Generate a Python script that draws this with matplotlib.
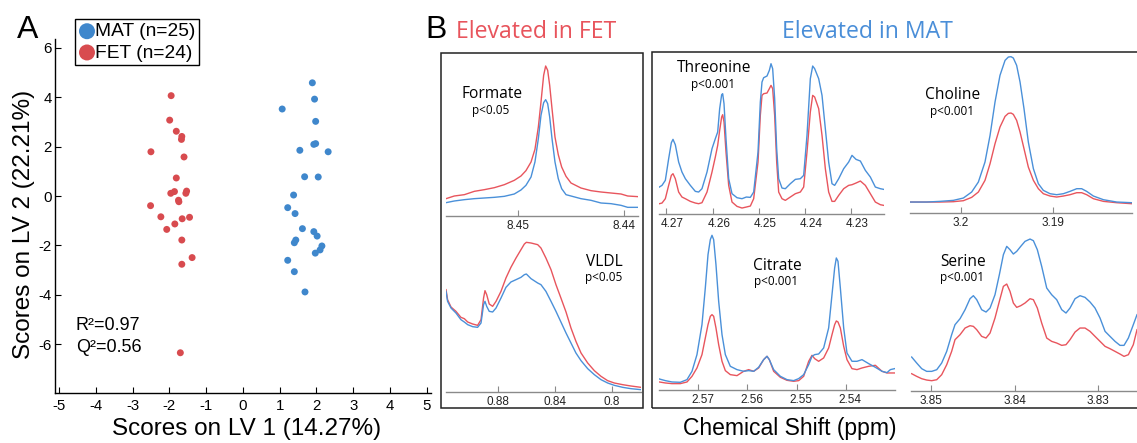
import matplotlib
matplotlib.use('Agg')
import matplotlib.pyplot as plt
from matplotlib.patches import Rectangle
from matplotlib.transforms import ScaledTranslation

plt.rcParams['font.family'] = ['Liberation Sans', 'DejaVu Sans']
plt.rcParams['axes.unicode_minus'] = False

# ---------------- data: panel A (PLS-DA scores) ----------------
mat_lv1 = [1.89, 1.95, 1.07, 1.98, 1.93, 1.98, 1.55, 2.32, 1.68, 2.05, 1.38, 1.22,
           1.42, 1.62, 1.93, 2.02, 1.44, 1.40, 2.15, 2.10, 1.97, 1.22, 1.40, 1.69]
mat_lv2 = [4.58, 3.92, 3.52, 3.02, 2.09, 2.12, 1.85, 1.79, 0.78, 0.77, 0.04, -0.47,
           -0.71, -1.32, -1.44, -1.62, -1.78, -1.89, -2.02, -2.18, -2.31, -2.60, -3.06, -3.88]
fet_lv1 = [-1.95, -1.99, -1.81, -1.66, -1.67, -2.50, -1.60, -1.81, -1.86, -1.96, -1.53, -1.55,
           -1.75, -1.74, -2.51, -2.23, -1.45, -1.65, -1.85, -2.07, -1.66, -1.38, -1.66, -1.70]
fet_lv2 = [4.06, 3.07, 2.62, 2.41, 2.29, 1.79, 1.58, 0.73, 0.18, 0.11, 0.20, 0.11,
           -0.17, -0.23, -0.39, -0.84, -0.86, -0.92, -1.13, -1.35, -1.78, -2.49, -2.76, -6.34]
legend_labels = ['MAT (n=25)', 'FET (n=24)']
fit_text = ['R\u00b2=0.97', 'Q\u00b2=0.56']
a_xticks = [-5, -4, -3, -2, -1, 0, 1, 2, 3, 4, 5]
a_yticks = [-6, -4, -2, 0, 2, 4, 6]

# ---------------- data: panel B (NMR spectra, a.u.) ----------------
formate_ppm = [8.45676, 8.45598, 8.45503, 8.45409, 8.45315, 8.45220, 8.45126, 8.45032, 8.44969,
               8.44922, 8.44874, 8.44837, 8.44805, 8.44780, 8.44755, 8.44736, 8.44717, 8.44698,
               8.44676, 8.44648, 8.44617, 8.44585, 8.44544, 8.44497, 8.44403, 8.44308, 8.44214,
               8.44120, 8.44025, 8.43962, 8.43862]
formate_fet = [52, 60, 64, 74, 79, 85, 94, 107, 120, 136, 162, 200, 267, 342, 422, 450, 437, 392,
               322, 237, 184, 147, 119, 99, 84, 76, 72, 69, 66, 60, 58]
formate_mat = [40, 45, 49, 52, 54, 56, 59, 66, 78, 92, 117, 162, 232, 302, 340, 349, 337, 297,
               232, 162, 112, 82, 64, 60, 52, 47, 39, 37, 32, 26, 26]

vldl_ppm = [0.9169, 0.9158, 0.9134, 0.9099, 0.9064, 0.9040, 0.9016, 0.8981, 0.8946, 0.8922,
            0.8904, 0.8894, 0.8882, 0.8864, 0.8840, 0.8816, 0.8781, 0.8746, 0.8711, 0.8675,
            0.8640, 0.8616, 0.8602, 0.8569, 0.8522, 0.8499, 0.8464, 0.8428, 0.8393, 0.8358,
            0.8322, 0.8287, 0.8252, 0.8216, 0.8169, 0.8122, 0.8075, 0.8028, 0.7981, 0.7922,
            0.7864, 0.7793]
vldl_fet = [307, 277, 255, 242, 224, 220, 210, 204, 200, 217,
            282, 304, 292, 264, 257, 272, 302, 342, 374, 402,
            427, 444, 449, 447, 442, 432, 402, 367, 322, 282,
            240, 192, 152, 117, 87, 64, 47, 34, 27, 22, 18, 14]
vldl_mat = [302, 272, 252, 237, 217, 210, 202, 196, 194, 207,
            262, 272, 257, 242, 240, 252, 282, 314, 330, 337,
            344, 352, 354, 340, 327, 322, 302, 272, 242, 210,
            177, 147, 117, 94, 70, 52, 37, 27, 20, 14, 10, 7]

threonine_ppm = [4.27155, 4.27097, 4.27025, 4.26953, 4.26895, 4.26859, 4.26809, 4.26737, 4.26665, 4.26592,
                 4.26484, 4.26376, 4.26304, 4.26232, 4.26123, 4.26015, 4.25943, 4.25892, 4.25849, 4.25806,
                 4.25784, 4.25755, 4.25712, 4.25654, 4.25582, 4.25474, 4.25366, 4.25272, 4.25185, 4.25113,
                 4.25019, 4.24969, 4.24933, 4.24897, 4.24825, 4.24774, 4.24738, 4.24702, 4.24659, 4.24615,
                 4.24572, 4.24500, 4.24428, 4.24320, 4.24211, 4.24103, 4.24031, 4.23959, 4.23887, 4.23836,
                 4.23793, 4.23706, 4.23634, 4.23562, 4.23490, 4.23418, 4.23360, 4.23273, 4.23165, 4.23057,
                 4.22985, 4.22898, 4.22804, 4.22696, 4.22588, 4.22480, 4.22372, 4.22299]
threonine_mat = [80, 85, 100, 165, 213, 223, 207, 155, 125, 105,
                 85, 67, 65, 75, 125, 195, 225, 245, 315, 357,
                 360, 330, 225, 105, 60, 48, 45, 50, 49, 65,
                 185, 335, 395, 408, 413, 430, 450, 435, 345, 195,
                 105, 77, 75, 90, 103, 105, 115, 235, 405, 443,
                 435, 405, 355, 255, 155, 90, 85, 105, 135, 155,
                 175, 163, 158, 130, 110, 80, 75, 73]
threonine_fet = [30, 32, 45, 85, 115, 120, 105, 65, 50, 45,
                 37, 32, 30, 33, 65, 125, 170, 205, 250, 290,
                 297, 275, 185, 85, 35, 22, 17, 20, 23, 45,
                 155, 295, 355, 360, 362, 375, 385, 375, 295, 155,
                 65, 45, 40, 50, 60, 65, 80, 185, 305, 355,
                 350, 315, 235, 135, 65, 37, 37, 55, 75, 85,
                 87, 92, 98, 85, 60, 35, 27, 25]

citrate_ppm = [2.57796, 2.57673, 2.57538, 2.57368, 2.57232, 2.57130, 2.57029, 2.56927, 2.56859, 2.56804,
               2.56757, 2.56723, 2.56689, 2.56642, 2.56587, 2.56519, 2.56451, 2.56350, 2.56214, 2.56078,
               2.55976, 2.55874, 2.55773, 2.55671, 2.55603, 2.55555, 2.55467, 2.55331, 2.55196, 2.55060,
               2.54958, 2.54856, 2.54754, 2.54686, 2.54632, 2.54551, 2.54449, 2.54347, 2.54279, 2.54225,
               2.54191, 2.54157, 2.54109, 2.54041, 2.53974, 2.53872, 2.53770, 2.53668, 2.53532, 2.53396,
               2.53261, 2.53159, 2.53091, 2.53003]
citrate_mat = [34, 29, 25, 24, 32, 57, 107, 197, 307, 407,
               452, 465, 452, 377, 267, 167, 107, 72, 62, 57,
               59, 57, 69, 92, 102, 92, 62, 42, 32, 29,
               35, 47, 77, 102, 107, 109, 127, 187, 287, 367,
               397, 387, 307, 187, 112, 87, 87, 92, 80, 69,
               57, 53, 62, 65]
citrate_fet = [25, 22, 20, 20, 25, 42, 67, 107, 157, 197,
               222, 227, 222, 187, 137, 87, 59, 47, 44, 57,
               62, 57, 67, 92, 102, 92, 57, 39, 30, 27,
               29, 42, 87, 105, 95, 87, 97, 127, 167, 197,
               208, 205, 187, 132, 92, 65, 62, 67, 72, 75,
               57, 52, 52, 52]

choline_ppm = [3.20549, 3.20368, 3.20223, 3.20078, 3.19969, 3.19879, 3.19806, 3.19734, 3.19679, 3.19625,
               3.19571, 3.19516, 3.19480, 3.19451, 3.19426, 3.19390, 3.19353, 3.19310, 3.19263, 3.19208,
               3.19154, 3.19100, 3.19027, 3.18955, 3.18882, 3.18810, 3.18737, 3.18683, 3.18629, 3.18556,
               3.18447, 3.18303, 3.18140]
choline_mat = [32, 32, 34, 37, 44, 62, 92, 152, 232, 332,
               412, 457, 467, 468, 464, 442, 392, 312, 212, 132,
               87, 67, 57, 54, 57, 64, 72, 72, 64, 50,
               39, 32, 30]
choline_fet = [32, 32, 32, 33, 36, 46, 62, 97, 147, 207,
               257, 289, 298, 299, 295, 277, 242, 192, 137, 97,
               72, 57, 50, 47, 50, 54, 60, 60, 54, 42,
               34, 30, 27]

serine_ppm = [3.85227, 3.85167, 3.85107, 3.85048, 3.84988, 3.84928, 3.84869, 3.84809, 3.84750, 3.84710,
              3.84650, 3.84590, 3.84531, 3.84491, 3.84451, 3.84392, 3.84340, 3.84292, 3.84233, 3.84181,
              3.84133, 3.84093, 3.84054, 3.84014, 3.83974, 3.83926, 3.83875, 3.83815, 3.83775, 3.83728,
              3.83676, 3.83616, 3.83557, 3.83497, 3.83437, 3.83386, 3.83338, 3.83278, 3.83219, 3.83159,
              3.83099, 3.83040, 3.82980, 3.82920, 3.82861, 3.82801, 3.82742, 3.82694, 3.82642, 3.82583,
              3.82539]
serine_mat = [101, 83, 66, 58, 58, 63, 83, 118, 168, 198,
              216, 243, 276, 285, 273, 243, 236, 248, 288, 348,
              408, 433, 423, 410, 418, 433, 448, 455, 450, 423,
              373, 308, 288, 273, 243, 233, 248, 276, 285, 280,
              266, 248, 218, 178, 163, 148, 136, 136, 158, 198,
              228]
serine_fet = [51, 43, 36, 32, 30, 33, 48, 78, 118, 153,
              168, 188, 195, 193, 183, 163, 158, 173, 218, 268,
              313, 320, 298, 263, 250, 255, 263, 276, 273, 248,
              203, 158, 148, 143, 136, 138, 153, 176, 188, 188,
              178, 163, 148, 133, 126, 118, 110, 103, 108, 138,
              183]

formate_ticks = [8.45, 8.44]
vldl_ticks = [0.88, 0.84, 0.80]
threonine_ticks = [4.27, 4.26, 4.25, 4.24, 4.23]
citrate_ticks = [2.57, 2.56, 2.55, 2.54]
choline_ticks = [3.20, 3.19]
serine_ticks = [3.85, 3.84, 3.83]
formate_ticklabels = ['8.45', '8.44']
vldl_ticklabels = ['0.88', '0.84', '0.8']
threonine_ticklabels = ['4.27', '4.26', '4.25', '4.24', '4.23']
citrate_ticklabels = ['2.57', '2.56', '2.55', '2.54']
choline_ticklabels = ['3.2', '3.19']
serine_ticklabels = ['3.85', '3.84', '3.83']

# ---------------- styling ----------------
DOT_BLUE = '#3f87cc'
DOT_RED = '#d84b4f'
LINE_BLUE = '#4a90d9'
LINE_RED = '#e8555d'
TITLE_RED = '#e8545c'
TITLE_BLUE = '#4a8ed8'
AXIS_GRAY = '#8a8a8a'
NAME_FONT = ['Open Sans', 'DejaVu Sans']

W, H = 1137, 443
fig = plt.figure(figsize=(W / 100, H / 100), dpi=100)


def fx(x):
    return x / W


def fy(y):
    return 1 - y / H


def axes_px(left, top, right, bottom):
    return fig.add_axes([left / W, 1 - bottom / H, (right - left) / W, (bottom - top) / H])


# ---------------- panel A ----------------
axA = axes_px(55, 39.3, 431, 393.3)
hm = axA.scatter(mat_lv1, mat_lv2, s=25, color=DOT_BLUE, edgecolors='none', zorder=3)
hf = axA.scatter(fet_lv1, fet_lv2, s=25, color=DOT_RED, edgecolors='none', zorder=3)
axA.set_xlim(-5.109, 5.117)
axA.set_ylim(-7.98, 6.34)
axA.set_xticks(a_xticks)
axA.set_yticks(a_yticks)
axA.set_xticklabels([str(t) for t in a_xticks])
axA.set_yticklabels([str(t) for t in a_yticks])
for s in ('top', 'right'):
    axA.spines[s].set_visible(False)
for s in ('left', 'bottom'):
    axA.spines[s].set_linewidth(1.0)
axA.tick_params(axis='x', direction='in', length=4, width=0.8, labelsize=10.8, pad=4)
axA.tick_params(axis='y', direction='in', length=4, width=0.8, labelsize=10.8, pad=2.5)
axA.patch.set_alpha(0)

axA.text(-4.54, -5.43, fit_text[0], fontsize=13, va='baseline', ha='left')
axA.text(-4.54, -6.32, fit_text[1], fontsize=13, va='baseline', ha='left')

leg = fig.legend([hm, hf], legend_labels, loc='upper left',
                 bbox_to_anchor=(fx(75), fy(19)), bbox_transform=fig.transFigure,
                 frameon=True, fancybox=False, edgecolor='black', fontsize=13.8,
                 markerscale=2.3, handletextpad=0.0, borderpad=0.2, labelspacing=0.2,
                 handlelength=0.85, borderaxespad=0, framealpha=1)
leg.get_frame().set_linewidth(1.0)

fig.text(fx(247), fy(435), 'Scores on LV 1 (14.27%)', fontsize=17.5, ha='center', va='baseline')
fig.text(fx(24), fy(224), 'Scores on LV 2 (22.21%)', fontsize=17.5, ha='center', va='center',
         rotation=90)
fig.text(fx(17), fy(38), 'A', fontsize=23, ha='left', va='baseline')
fig.text(fx(425), fy(38), 'B', fontsize=23, ha='left', va='baseline')

# ---------------- panel B ----------------
fig.text(fx(536), fy(38), 'Elevated in FET', fontsize=16.6, color=TITLE_RED, ha='center',
         va='baseline', family=NAME_FONT)
fig.text(fx(867), fy(38), 'Elevated in MAT', fontsize=16.6, color=TITLE_BLUE, ha='center',
         va='baseline', family=NAME_FONT)
fig.text(fx(790), fy(435), 'Chemical Shift (ppm)', fontsize=16.5, ha='center', va='baseline')

fig.add_artist(Rectangle((fx(441), fy(408)), (642.7 - 441) / W, (408 - 52.7) / H,
                         transform=fig.transFigure, fill=False, lw=1.1, ec='#222222'))
fig.add_artist(Rectangle((fx(651.7), fy(408)), (1145 - 651.7) / W, (408 - 52.3) / H,
                         transform=fig.transFigure, fill=False, lw=1.1, ec='#222222'))


def spectrum(box, xlim, ppm, mat, fet, ticks, ticklabels, name, name_xy, p_text, p_xy,
             label_shift=0.0):
    left, top, right, bottom = box
    ax = axes_px(left, top, right, bottom)
    ax.plot(ppm, fet, color=LINE_RED, lw=1.0, zorder=2)
    ax.plot(ppm, mat, color=LINE_BLUE, lw=1.0, zorder=3)
    ax.set_xlim(*xlim)
    ax.set_ylim(0, (bottom - top) * 3)
    ax.set_yticks([])
    ax.set_xticks(ticks)
    ax.set_xticklabels(ticklabels)
    for s in ('top', 'left', 'right'):
        ax.spines[s].set_visible(False)
    ax.spines['bottom'].set_color(AXIS_GRAY)
    ax.spines['bottom'].set_linewidth(1.0)
    ax.tick_params(axis='x', direction='in', length=4, width=0.8, color=AXIS_GRAY,
                   labelsize=8.5, pad=3, labelcolor='#222222')
    ax.patch.set_alpha(0)
    if label_shift:
        off = ScaledTranslation(label_shift / 100, 0, fig.dpi_scale_trans)
        for lab in ax.get_xticklabels():
            lab.set_transform(lab.get_transform() + off)
    fig.text(fx(name_xy[0]), fy(name_xy[1]), name, fontsize=11.2, ha='center', va='baseline',
             family=NAME_FONT)
    fig.text(fx(p_xy[0]), fy(p_xy[1]), p_text, fontsize=8.5, ha='center', va='baseline',
             family=NAME_FONT)
    return ax


spectrum((445.7, 54, 638.3, 216), (8.45679, 8.43862), formate_ppm, formate_mat, formate_fet,
         formate_ticks, formate_ticklabels, 'Formate', (492, 97.7), 'p<0.05', (491, 113.5))
spectrum((445.7, 232, 641, 392), (0.91713, 0.77927), vldl_ppm, vldl_mat, vldl_fet,
         vldl_ticks, vldl_ticklabels, 'VLDL', (604, 266.3), 'p<0.05', (604, 281.3))
spectrum((659, 54, 884.3, 213.7), (4.27162, 4.22286), threonine_ppm, threonine_mat, threonine_fet,
         threonine_ticks, threonine_ticklabels, 'Threonine', (714.5, 72), 'p<0.001', (713.3, 88),
         label_shift=6)
spectrum((659.3, 232, 895, 390.3), (2.57796, 2.52996), citrate_ppm, citrate_mat, citrate_fet,
         citrate_ticks, citrate_ticklabels, 'Citrate', (777, 270.3), 'p<0.001', (776.2, 285.3),
         label_shift=4.5)
spectrum((910, 54, 1132.3, 212.7), (3.20549, 3.18133), choline_ppm, choline_mat, choline_fet,
         choline_ticks, choline_ticklabels, 'Choline', (952.2, 98.7), 'p<0.001', (951.7, 115.3))
spectrum((911, 232, 1137, 390.7), (3.85235, 3.82539), serine_ppm, serine_mat, serine_fet,
         serine_ticks, serine_ticklabels, 'Serine', (963, 266.3), 'p<0.001', (962.2, 281.3))

fig.savefig('out.png', dpi=100)
